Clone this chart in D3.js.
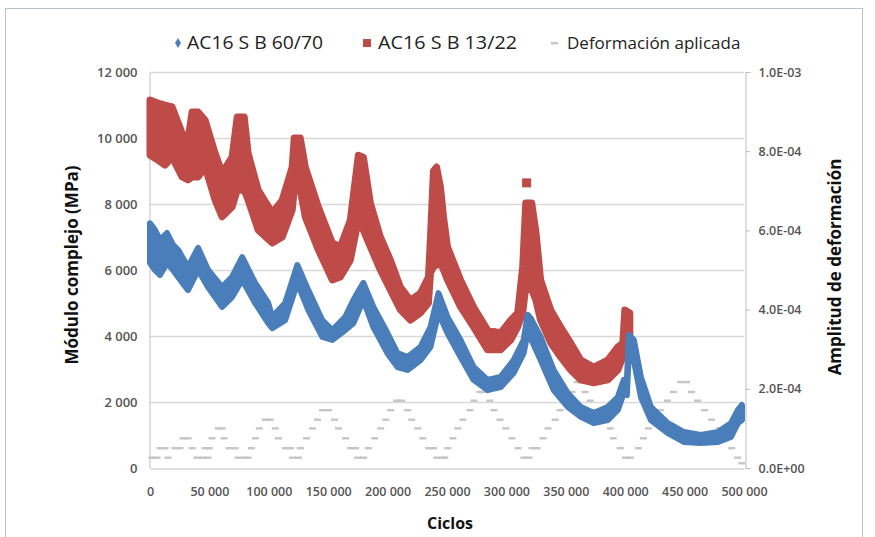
<!DOCTYPE html>
<html>
<head>
<meta charset="utf-8">
<script src="https://cdn.jsdelivr.net/npm/d3@7"></script>
<style>
  body { margin: 0; background: #fff; }
  #chart { width: 875px; height: 537px; }
  text { font-family: "Open Sans", "Noto Sans", sans-serif; }
</style>
</head>
<body>
<div id="chart"></div>
<script>
// Cycle positions and envelope (upper / lower edge of the scatter cloud) of each series
const blueCycles = [0, 4200, 8400, 14300, 19400, 23600, 32000, 40500, 48900, 60700, 69100, 77600, 88500, 99500, 102900, 113800, 124000, 133200, 145000, 153500, 164400, 171200, 179600, 188000, 199800, 208300, 216700, 227700, 236100, 242800, 250400, 261400, 272400, 284200, 295100, 306100, 314500, 317900, 320400, 328800, 339800, 351600, 362600, 373500, 385300, 393800, 398800, 401400, 403000, 407300, 413200, 421600, 435900, 449400, 463700, 478100, 489000, 494900, 498300];
const blueUpper = [7420, 7210, 6910, 7120, 6760, 6610, 6090, 6670, 6000, 5480, 5790, 6390, 5610, 5000, 4580, 5000, 6150, 5390, 4480, 4180, 4580, 5090, 5610, 4880, 4090, 3480, 3360, 3670, 4270, 5300, 4580, 3880, 3060, 2670, 2760, 3270, 3880, 4640, 4540, 3970, 2970, 2270, 1850, 1670, 1850, 2150, 2670, 2610, 4030, 3880, 2760, 1850, 1360, 1090, 1000, 1090, 1360, 1760, 1910];
const blueLower = [6210, 6000, 5850, 6210, 6000, 5790, 5390, 6000, 5480, 4880, 5180, 5700, 5000, 4390, 4240, 4480, 5610, 4790, 3970, 3880, 4180, 4390, 5090, 4270, 3480, 3060, 2970, 3270, 3670, 4700, 4090, 3360, 2670, 2360, 2450, 2880, 3480, 4090, 3940, 3270, 2360, 1850, 1550, 1360, 1450, 1760, 2270, 2210, 3420, 3270, 2150, 1450, 1060, 790, 760, 790, 940, 1360, 1450];

const redCycles = [0, 6700, 12600, 18600, 27000, 32000, 35400, 40500, 46400, 54800, 60700, 69100, 73400, 79300, 82600, 91100, 102900, 111300, 119700, 121400, 126500, 130700, 141700, 153500, 160200, 168600, 175400, 179600, 185500, 193900, 202400, 210800, 219200, 227700, 234400, 236100, 238600, 241200, 244500, 247100, 250400, 261400, 272400, 284200, 295100, 303600, 309500, 313700, 316300, 321300, 324700, 328800, 337300, 345700, 354100, 362600, 373500, 385300, 393800, 398000, 399700, 403900];
const redUpper = [11150, 11060, 11000, 10940, 10150, 9940, 10790, 10790, 10540, 9540, 8940, 9420, 10640, 10640, 9540, 8420, 7730, 8120, 9120, 10000, 10000, 9120, 7910, 6820, 6700, 7510, 9480, 9420, 8030, 7000, 6300, 5480, 5090, 5300, 5790, 7000, 9000, 9120, 8510, 7600, 6700, 5700, 4880, 4180, 4090, 4480, 4700, 6090, 8030, 8030, 7200, 5700, 4790, 4270, 3790, 3270, 3060, 3270, 3670, 3790, 4790, 4700];
const redLower = [9480, 9330, 9180, 9420, 8820, 8730, 8820, 8820, 9120, 8120, 7610, 7910, 8420, 8420, 8120, 7210, 6820, 7000, 7820, 8420, 8420, 7610, 6610, 5700, 5790, 6300, 7510, 7210, 6700, 6000, 5390, 4790, 4480, 4700, 5000, 5910, 6090, 6150, 6210, 6000, 5700, 4880, 4270, 3580, 3580, 3880, 4270, 4700, 5480, 5400, 5100, 4480, 3790, 3360, 2970, 2670, 2580, 2670, 2970, 3360, 4090, 3970];
const redOutlierCycles = [317000];
const redOutlierValues = [8640];

// Applied strain amplitude (right axis)
const strainCycles = [1700, 5900, 8400, 12600, 15200, 21100, 25300, 27800, 32000, 35400, 39600, 44700, 48900,
  46400, 49800, 52300, 57300, 60700, 62400, 66600, 71700, 74200, 79300, 82600,
  85300, 88700, 92000, 97100, 101300, 105500, 108100, 114000, 118200, 119900, 125000,
  126600, 131700, 136800, 141000, 145200, 150300, 155300, 158700, 164600, 168900, 173100, 174800, 179800,
  184000, 189100, 194200, 198400, 202600, 207700, 211900, 216900, 220300, 225400, 229600, 234600, 238800, 241500, 246600,
  248100, 250800, 255000, 259200, 263400, 269300, 272700, 277700, 281100, 286100, 289500, 294600, 299600, 304700, 309800, 314800, 319000,
  321600, 325800, 330900, 335100, 341000, 345200, 349400, 355300, 359600, 362900, 366300, 370500, 374700, 381500, 387400, 390000, 395900, 400100, 404300,
  411100, 415300, 419500, 423700, 429600, 435500, 440600, 446500, 451600, 455800, 460900, 466800, 472700, 479500, 484500, 489600, 494700, 498000];
const strainValues = [2.6e-5, 2.6e-5, 5.0e-5, 5.0e-5, 2.6e-5, 5.0e-5, 5.0e-5, 7.5e-5, 7.5e-5, 5.0e-5, 2.6e-5, 2.6e-5, 2.6e-5,
  5.0e-5, 5.0e-5, 7.5e-5, 1.0e-4, 1.0e-4, 7.5e-5, 5.0e-5, 5.0e-5, 2.6e-5, 2.6e-5, 2.6e-5,
  5.0e-5, 7.5e-5, 1.0e-4, 1.22e-4, 1.22e-4, 1.0e-4, 7.5e-5, 5.0e-5, 5.0e-5, 2.6e-5, 2.6e-5,
  5.0e-5, 7.5e-5, 1.0e-4, 1.22e-4, 1.46e-4, 1.46e-4, 1.22e-4, 1.0e-4, 7.5e-5, 5.0e-5, 5.0e-5, 2.6e-5, 2.6e-5,
  5.0e-5, 7.5e-5, 1.0e-4, 1.22e-4, 1.46e-4, 1.7e-4, 1.7e-4, 1.46e-4, 1.22e-4, 1.0e-4, 7.5e-5, 5.0e-5, 5.0e-5, 2.6e-5, 2.6e-5,
  2.6e-5, 5.0e-5, 7.5e-5, 1.0e-4, 1.22e-4, 1.46e-4, 1.7e-4, 1.92e-4, 1.92e-4, 1.7e-4, 1.46e-4, 1.22e-4, 1.0e-4, 7.5e-5, 5.0e-5, 2.6e-5, 2.6e-5,
  5.0e-5, 5.0e-5, 7.5e-5, 1.0e-4, 1.22e-4, 1.46e-4, 1.7e-4, 1.92e-4, 2.17e-4, 2.17e-4, 1.92e-4, 1.7e-4, 1.46e-4, 1.22e-4, 1.0e-4, 7.5e-5, 5.0e-5, 2.6e-5, 2.6e-5,
  5.0e-5, 7.5e-5, 1.0e-4, 1.22e-4, 1.46e-4, 1.7e-4, 1.92e-4, 2.17e-4, 2.17e-4, 1.92e-4, 1.7e-4, 1.46e-4, 1.22e-4, 1.0e-4, 7.5e-5, 5.0e-5, 2.6e-5, 1.2e-5];

// Ticks and labels
const xTicks = [0, 50000, 100000, 150000, 200000, 250000, 300000, 350000, 400000, 450000, 500000];
const xTickLabels = ["0", "50 000", "100 000", "150 000", "200 000", "250 000", "300 000", "350 000", "400 000", "450 000", "500 000"];
const yTicks = [0, 2000, 4000, 6000, 8000, 10000, 12000];
const yTickLabels = ["0", "2 000", "4 000", "6 000", "8 000", "10 000", "12 000"];
const y2Ticks = [0, 2e-4, 4e-4, 6e-4, 8e-4, 1e-3];
const y2TickLabels = ["0.0E+00", "2.0E-04", "4.0E-04", "6.0E-04", "8.0E-04", "1.0E-03"];
const seriesNames = ["AC16 S B 60/70", "AC16 S B 13/22", "Deformación aplicada"];

const blue = "#4a7ebb", red = "#be4b48", grey = "#c6c6c6";

const width = 875, height = 537;

const svg = d3.select("#chart").append("svg")
    .attr("width", width)
    .attr("height", height);

// Outer chart frame
svg.append("rect")
    .attr("x", 5.5).attr("y", 8.5)
    .attr("width", 857).attr("height", 540)
    .attr("fill", "none")
    .attr("stroke", "#b9c3cc");

const x = d3.scaleLinear().domain([0, 500000]).range([150, 744]);
const y = d3.scaleLinear().domain([0, 12000]).range([468, 72]);
const y2 = d3.scaleLinear().domain([0, 1e-3]).range([468, 72]);

// Gridlines
svg.append("g")
    .attr("transform", "translate(150,0)")
    .call(d3.axisLeft(y).tickValues(yTicks.slice(1)).tickSize(-594).tickFormat(""))
    .call(g => g.select(".domain").remove())
    .selectAll("line").attr("stroke", "#d9d9d9").attr("stroke-width", 1.3);

// Left axis
const yAxis = svg.append("g")
    .attr("transform", "translate(149.5,0)")
    .call(d3.axisLeft(y).tickValues(yTicks).tickSize(0).tickPadding(12)
        .tickFormat((d, i) => yTickLabels[i]));
yAxis.select(".domain").attr("stroke", "#bfbfbf");
yAxis.selectAll("text").attr("fill", "#555").attr("font-size", "13px").attr("font-weight", 600);

// Bottom axis
const xAxis = svg.append("g")
    .attr("transform", "translate(0,468.5)")
    .call(d3.axisBottom(x).tickValues(xTicks).tickSize(0).tickPadding(19)
        .tickFormat((d, i) => xTickLabels[i]));
xAxis.select(".domain").attr("stroke", "#bfbfbf");
xAxis.selectAll("text").attr("fill", "#555").attr("font-size", "12.5px").attr("font-weight", 600);

// Right axis
const y2Axis = svg.append("g")
    .attr("transform", "translate(745.5,0)")
    .call(d3.axisRight(y2).tickValues(y2Ticks).tickSize(5).tickPadding(8)
        .tickFormat((d, i) => y2TickLabels[i]));
y2Axis.select(".domain").attr("stroke", "#bfbfbf");
y2Axis.selectAll("line").attr("stroke", "#bfbfbf");
y2Axis.selectAll("text").attr("fill", "#555").attr("font-size", "12.5px").attr("font-weight", 600);

// Axis titles
svg.append("text")
    .attr("transform", "translate(78,265) rotate(-90)")
    .attr("text-anchor", "middle")
    .attr("font-size", "17px").attr("font-weight", "bold").attr("fill", "#111")
    .text("Módulo complejo (MPa)");

svg.append("text")
    .attr("transform", "translate(841,267) rotate(-90)")
    .attr("text-anchor", "middle")
    .attr("font-size", "17px").attr("font-weight", "bold").attr("fill", "#111")
    .text("Amplitud de deformación");

svg.append("text")
    .attr("x", 450).attr("y", 529)
    .attr("text-anchor", "middle")
    .attr("font-size", "16px").attr("font-weight", "bold").attr("fill", "#111")
    .text("Ciclos");

// Strain amplitude dashes
svg.append("g").selectAll("rect")
    .data(strainCycles.map((c, i) => [c, strainValues[i]]))
    .join("rect")
    .attr("x", d => x(d[0]) - 3.5)
    .attr("y", d => y2(d[1]) - 1.2)
    .attr("width", 7).attr("height", 2.4)
    .attr("fill", grey);

// Scatter cloud bands
function drawBand(cycles, upper, lower, color, edge) {
    const pts = cycles.map((c, i) => ({ c, hi: upper[i], lo: lower[i] }));
    const area = d3.area()
        .x(d => x(d.c))
        .y0(d => y(d.lo))
        .y1(d => y(d.hi));
    svg.append("path")
        .datum(pts)
        .attr("d", area)
        .attr("fill", color)
        .attr("stroke", color)
        .attr("stroke-width", edge)
        .attr("stroke-linejoin", "round");
}
drawBand(redCycles, redUpper, redLower, red, 7);
drawBand(blueCycles, blueUpper, blueLower, blue, 6);

// Isolated red point
svg.append("g").selectAll("rect")
    .data(redOutlierCycles.map((c, i) => [c, redOutlierValues[i]]))
    .join("rect")
    .attr("x", d => x(d[0]) - 4.5)
    .attr("y", d => y(d[1]) - 4.5)
    .attr("width", 9).attr("height", 9)
    .attr("fill", red);

// Legend
const legend = svg.append("g").attr("font-size", "17px").attr("fill", "#222");
legend.append("path")
    .attr("d", d3.symbol(d3.symbolDiamond, 30)())
    .attr("transform", "translate(178,43)")
    .attr("fill", blue);
legend.append("text").attr("x", 187).attr("y", 49).attr("font-size", "18px")
    .attr("textLength", 136).attr("lengthAdjust", "spacingAndGlyphs").text(seriesNames[0]);
legend.append("rect")
    .attr("x", 363).attr("y", 39).attr("width", 8).attr("height", 8)
    .attr("fill", red);
legend.append("text").attr("x", 378).attr("y", 49).attr("font-size", "18px")
    .attr("textLength", 139).attr("lengthAdjust", "spacingAndGlyphs").text(seriesNames[1]);
legend.append("rect")
    .attr("x", 551).attr("y", 42).attr("width", 7).attr("height", 2.4)
    .attr("fill", grey);
legend.append("text").attr("x", 567).attr("y", 49).text(seriesNames[2]);
</script>
</body>
</html>
